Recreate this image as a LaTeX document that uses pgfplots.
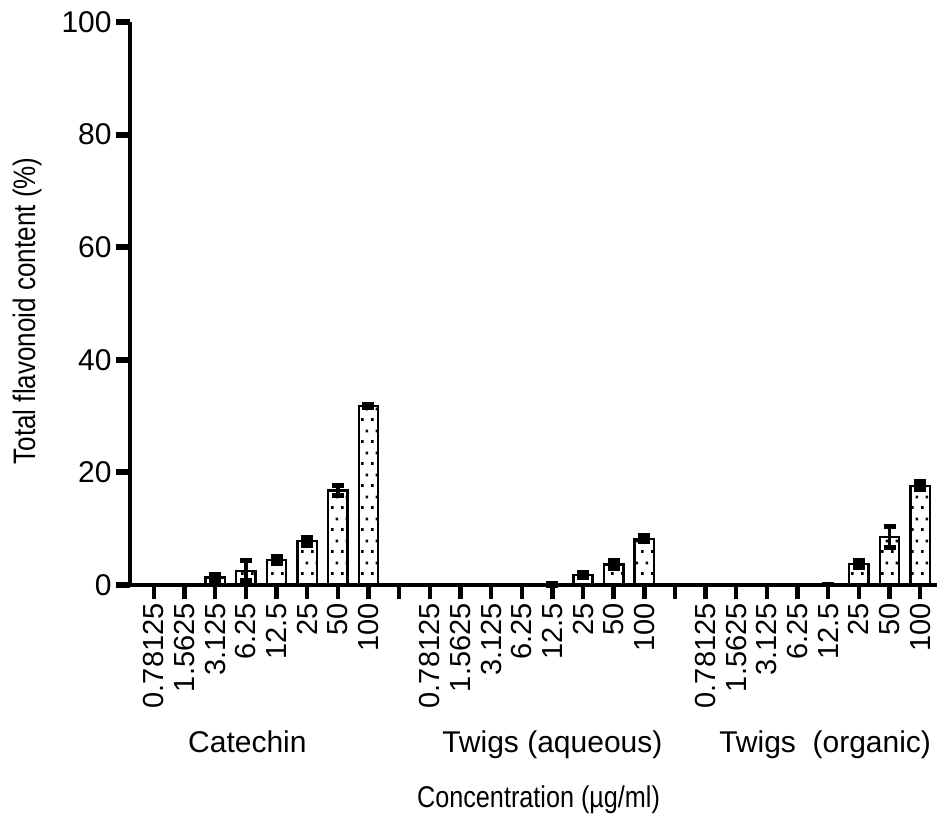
\documentclass[border=0pt]{standalone}
\usepackage{fontspec}
\setmainfont{Liberation Sans}
\newfontfamily\narrowfont[FakeStretch=0.84]{Liberation Sans}
\usepackage{pgfplots}
\usepackage{pgfplotstable}
\pgfplotsset{compat=1.18}
\usetikzlibrary{patterns}
\pgfdeclarepatternformonly{sdots}{\pgfpointorigin}{\pgfpoint{5pt}{11pt}}{\pgfpoint{5pt}{11pt}}{%
  \pgfpathrectangle{\pgfpoint{0.6pt}{0.6pt}}{\pgfpoint{1.4pt}{1.4pt}}%
  \pgfpathrectangle{\pgfpoint{3.1pt}{6.1pt}}{\pgfpoint{1.4pt}{1.4pt}}%
  \pgfusepath{fill}}

% position value error
\pgfplotstableread{
x y e
2 1.3 0.6
3 2.5 1.8
4 4.4 0.6
5 7.8 0.7
6 16.8 0.9
7 31.8 0.3
13 0.1 0.1
14 1.8 0.4
15 3.6 0.7
16 8.2 0.5
22 0.1 0.05
23 3.7 0.6
24 8.5 1.9
25 17.6 0.7
}\datatab

\begin{document}
\begin{tikzpicture}
\begin{axis}[
  scale only axis,
  width=403.5pt, height=281.5pt,
  xmin=-0.78, xmax=25.55,
  ymin=0, ymax=100,
  axis x line*=bottom, axis y line*=left,
  axis line style={line width=2.2pt, -},
  ybar, bar width=0.63,
  xtick style={black, line width=2.2pt},
  ytick style={black, line width=3pt},
  tick align=outside,
  major tick length=7pt,
  xtick={0,...,25},
  xticklabels={0.78125,1.5625,3.125,6.25,12.5,25,50,100,{},0.78125,1.5625,3.125,6.25,12.5,25,50,100,{},0.78125,1.5625,3.125,6.25,12.5,25,50,100},
  ytick={0,20,40,60,80,100},
  /pgf/number format/assume math mode=true,
  xticklabel style={rotate=90, anchor=east, font=\fontsize{14.5}{17}\selectfont, inner sep=2pt},
  yticklabel style={font=\fontsize{15}{18}\selectfont, inner sep=2pt},
  clip=false,
]
\addplot[draw=black, line width=1.25pt, pattern=sdots, pattern color=black,
  error bars/.cd, y dir=both, y explicit,
  error bar style={line width=1.8pt, black},
  error mark options={rotate=90, mark size=3pt, line width=2.6pt, black}]
  table[x=x, y=y, y error=e] {\datatab};
\node[anchor=base, font=\fontsize{15}{18}\selectfont] at (axis cs:3.05,-29.7) {Catechin};
\node[anchor=base, font=\fontsize{15}{18}\selectfont] at (axis cs:13.0,-29.7) {Twigs (aqueous)};
\node[anchor=base, font=\fontsize{15}{18}\selectfont] at (axis cs:21.9,-29.7) {Twigs\ \ (organic)};
\node[anchor=base, font=\narrowfont\fontsize{15}{18}\selectfont] at (axis cs:12.55,-39.6) {Concentration (µg/ml)};
\node[anchor=center, rotate=90, font=\narrowfont\fontsize{15.5}{18}\selectfont] at (axis cs:-4.14,48.7) {Total flavonoid content (\%)};
\coordinate (bbsw) at (rel axis cs:-0.1611,-0.4121);
\coordinate (bbne) at (rel axis cs:1.0037,1.0391);
\end{axis}
\pgfresetboundingbox
\path[use as bounding box] (bbsw) rectangle (bbne);
\end{tikzpicture}
\end{document}
